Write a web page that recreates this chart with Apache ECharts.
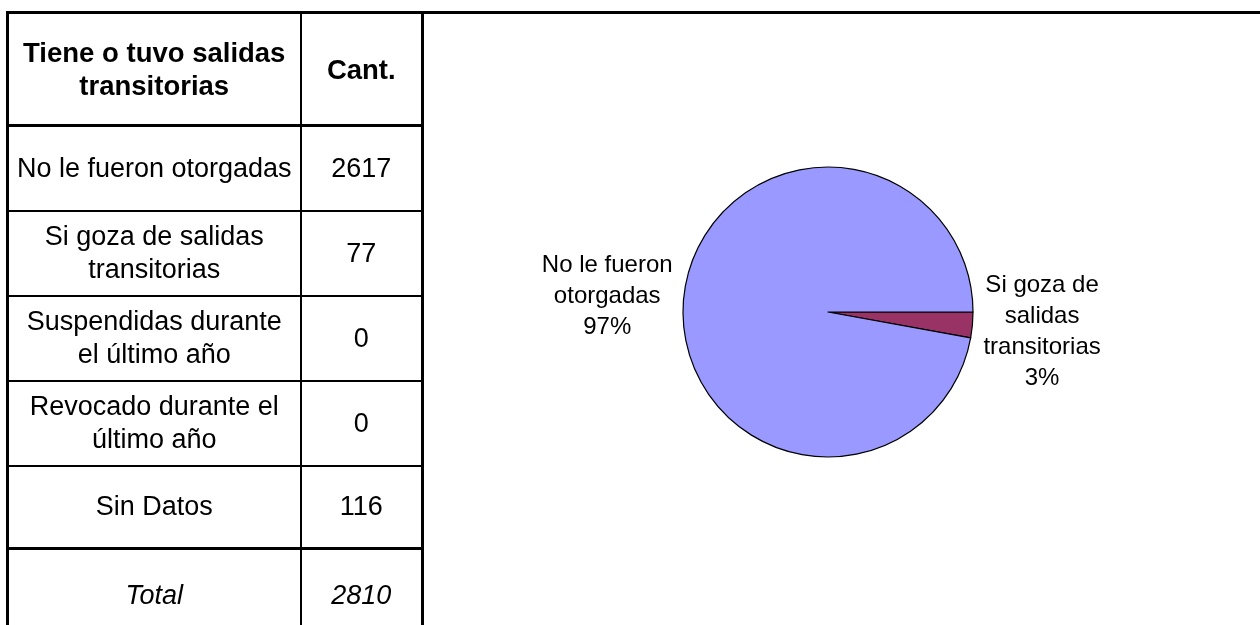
<!DOCTYPE html>
<html>
<head>
<meta charset="utf-8">
<script src="https://cdn.jsdelivr.net/npm/echarts@6/dist/echarts.min.js"></script>
<style>
    html, body {
        margin: 0;
        padding: 0;
        width: 1260px;
        height: 625px;
        overflow: hidden;
        background: #fff;
        font-family: "Liberation Sans", Arial, sans-serif;
    }
    #chart {
        position: absolute;
        left: 0;
        top: 0;
        width: 1260px;
        height: 625px;
    }
    #topLine {
        position: absolute;
        left: 6px;
        top: 11px;
        width: 1254px;
        height: 3px;
        background: #000;
    }
    table {
        position: absolute;
        left: 6px;
        top: 11px;
        border-collapse: collapse;
        table-layout: fixed;
        border: 3px solid #000;
        color: #000;
    }
    td, th {
        border: 2px solid #000;
        text-align: center;
        vertical-align: middle;
        padding: 0 4px;
        font-size: 27px;
        line-height: 33px;
        font-weight: normal;
    }
    th {
        font-weight: bold;
        font-size: 27.5px;
        border-bottom: 3px solid #000;
    }
    tr.total td {
        border-top: 3px solid #000;
        font-style: italic;
    }
    td.num, th.num {
        border-right: 3px solid #000;
    }
</style>
</head>
<body>
<div id="chart"></div>
<div id="topLine"></div>
<table id="tbl">
    <colgroup><col style="width:293px"><col style="width:122px"></colgroup>
    <thead></thead>
    <tbody></tbody>
</table>
<script>
    // table data
    const headers = ['Tiene o tuvo salidas transitorias', 'Cant.'];
    const categories = [
        'No le fueron otorgadas',
        'Si goza de salidas transitorias',
        'Suspendidas durante el último año',
        'Revocado durante el último año',
        'Sin Datos'
    ];
    const counts = [2617, 77, 0, 0, 116];
    const totalLabel = 'Total';

    // pie data (only the two non-empty answers)
    const pieNames = ['Si goza de\nsalidas\ntransitorias', 'No le fueron\notorgadas'];
    const pieValues = [77, 2617];
    const pieColors = ['#993366', '#9999FF'];

    const rowHeights = [85, 85, 85, 85, 83];

    const thead = document.querySelector('#tbl thead');
    thead.innerHTML = '<tr style="height:113px"><th>' + headers[0] + '</th><th class="num">' + headers[1] + '</th></tr>';
    const tbody = document.querySelector('#tbl tbody');
    let html = '';
    categories.forEach((c, i) => {
        html += '<tr style="height:' + rowHeights[i] + 'px"><td>' + c + '</td><td class="num">' + counts[i] + '</td></tr>';
    });
    const total = counts.reduce((a, b) => a + b, 0);
    html += '<tr class="total" style="height:94px"><td>' + totalLabel + '</td><td class="num">' + total + '</td></tr>';
    tbody.innerHTML = html;

    const chart = echarts.init(document.getElementById('chart'));
    chart.setOption({
        animation: false,
        series: [
            {
                type: 'pie',
                center: [828, 312],
                radius: 145,
                startAngle: 0,
                clockwise: true,
                avoidLabelOverlap: false,
                itemStyle: {
                    borderColor: '#000',
                    borderWidth: 1.2
                },
                label: {
                    show: true,
                    position: 'outside',
                    color: '#000',
                    fontFamily: '"Liberation Sans", Arial, sans-serif',
                    fontSize: 24,
                    lineHeight: 31,
                    formatter: (p) => p.name + '\n' + Math.round(p.percent) + '%'
                },
                labelLine: {
                    show: false,
                    length: 6,
                    length2: 0
                },
                labelLayout: (params) => {
                    const r = params.labelRect;
                    const left = params.dataIndex === 1;
                    return {
                        x: r.x + r.width / 2,
                        y: r.y + r.height / 2 + (left ? -2 : 6),
                        align: 'center',
                        verticalAlign: 'middle'
                    };
                },
                data: pieNames.map((n, i) => ({
                    name: n,
                    value: pieValues[i],
                    itemStyle: { color: pieColors[i] }
                }))
            }
        ]
    });
</script>
</body>
</html>
